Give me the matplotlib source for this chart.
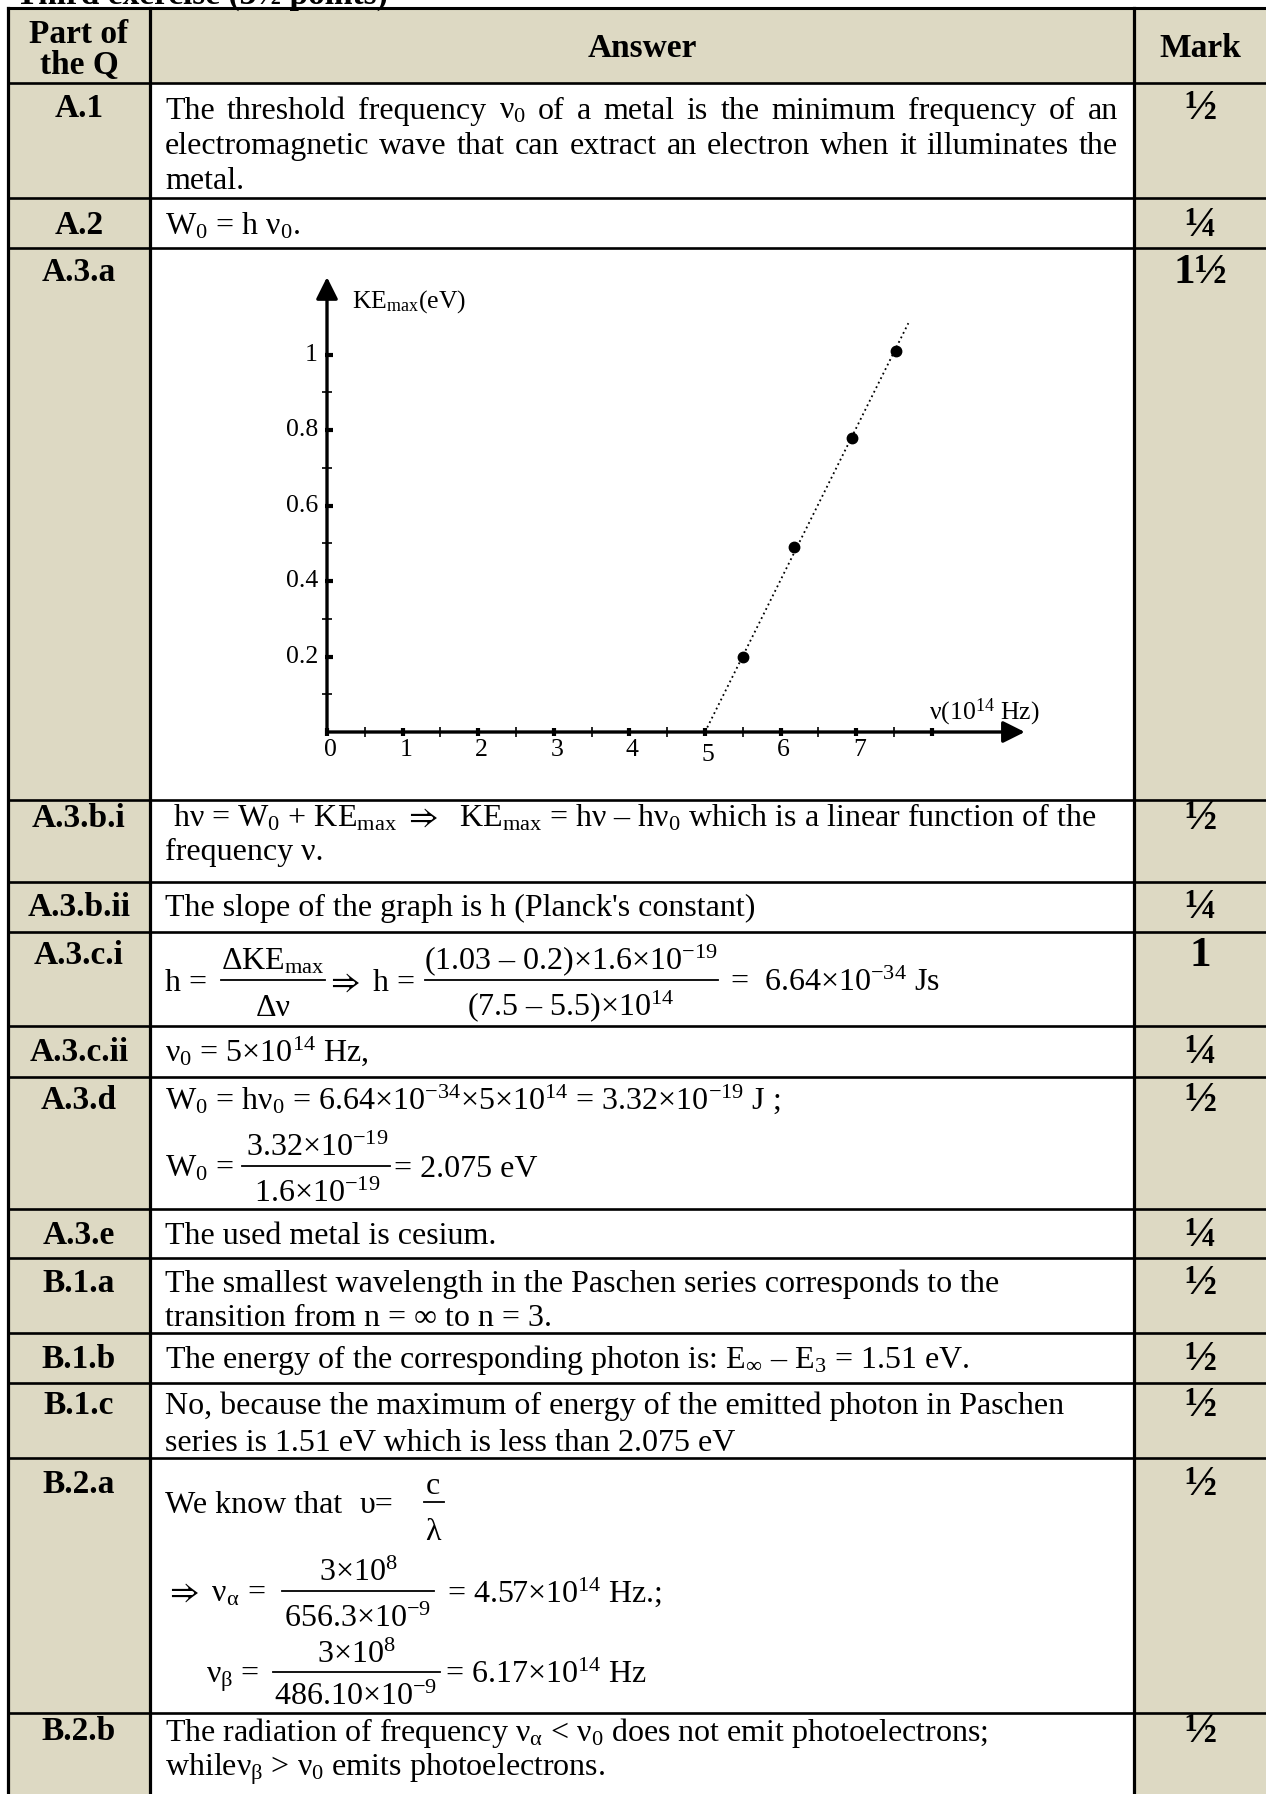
"""Marking scheme table (photoelectric effect) with the KEmax = f(v) graph"""
import matplotlib
matplotlib.use('Agg')
import matplotlib.pyplot as plt
from matplotlib.patches import Rectangle

# Times-like text, with DejaVu as fallback for arrows etc.
plt.rcParams['font.family'] = ['Liberation Serif', 'DejaVu Serif']
plt.rcParams['mathtext.fontset'] = 'custom'
plt.rcParams['mathtext.rm'] = 'Liberation Serif'
plt.rcParams['mathtext.it'] = 'Liberation Serif:italic'
plt.rcParams['mathtext.bf'] = 'Liberation Serif:bold'
plt.rcParams['mathtext.default'] = 'regular'
plt.rcParams['mathtext.fallback'] = 'stix'

W, H = 1266, 1794
BEIGE = '#ddd9c3'
FS = 23          # body text
LFS = 24         # part labels (bold)
MFS = 31         # marks (bold)
GFS = 18.5       # graph labels

# graph data
freq = [5.5, 6.18, 6.95, 7.53]          # 10^14 Hz
ke_max = [0.2, 0.49, 0.78, 1.01]        # eV
fit_freq = [5.0, 7.69]
fit_ke = [0.0, 1.083]
x_ticks = [0, 1, 2, 3, 4, 5, 6, 7, 8]
x_half_ticks = [0.5, 1.5, 2.5, 3.5, 4.5, 5.5, 6.5, 7.5]
x_labels = ['0', '1', '2', '3', '4', '5', '6', '7']
y_ticks = [0.2, 0.4, 0.6, 0.8, 1.0]
y_labels = ['0.2', '0.4', '0.6', '0.8', '1']
y_minor = [0.1, 0.3, 0.5, 0.7, 0.9]

# table content
parts = ['A.1', 'A.2', 'A.3.a', 'A.3.b.i', 'A.3.b.ii', 'A.3.c.i', 'A.3.c.ii',
         'A.3.d', 'A.3.e', 'B.1.a', 'B.1.b', 'B.1.c', 'B.2.a', 'B.2.b']
marks = ['½', '¼', '1½', '½', '¼', '1', '¼', '½', '¼', '½', '½', '½', '½', '½']

# row borders (pixels from top); the last row runs off the page
row_edges = [83, 198, 248, 800, 882, 932, 1026, 1077, 1209, 1258, 1333, 1383, 1458, 1713, H + 20]
label_y = [106, 223, 270, 816, 905, 953, 1050, 1098, 1233, 1281, 1357, 1403, 1482, 1729]
TOP, LEFT, C1, C2 = 8, 8, 150, 1134
TX = 165           # left edge of answer text
RA = r'$\Rightarrow$'

fig = plt.figure(figsize=(W / 100, H / 100), dpi=100)
ax = fig.add_axes([0, 0, 1, 1])
ax.set_xlim(0, W)
ax.set_ylim(H, 0)
ax.axis('off')


def put(x, yc, s, fs=FS, **kw):
    # yc is the visual middle of the line; draw on the baseline below it
    return ax.text(x, yc + fs * 0.46, s, fontsize=fs, va='baseline', **kw)


def frac(xc, ybar, x0, x1, num, den, fs=FS, up=21, down=25):
    put(xc, ybar - up, num, fs, ha='center')
    put(xc, ybar + down, den, fs, ha='center')
    ax.plot([x0, x1], [ybar, ybar], color='black', lw=1.3)


def justify(x0, x1, yc, text, fs=FS):
    words = text.split(' ')
    objs = [put(0, yc, w, fs) for w in words]
    r = fig.canvas.get_renderer()
    widths = [o.get_window_extent(renderer=r).width for o in objs]
    gap = (x1 - x0 - sum(widths)) / (len(words) - 1)
    x = x0
    for o, w in zip(objs, widths):
        o.set_x(x)
        x += w + gap


# cut-off heading above the table
ax.text(388, 4, 'Third exercise (3½ points)', fontsize=24, fontweight='bold',
        ha='right', va='baseline')

# shading
ax.add_patch(Rectangle((LEFT, TOP), W - LEFT, row_edges[0] - TOP, color=BEIGE, lw=0))
ax.add_patch(Rectangle((LEFT, row_edges[0]), C1 - LEFT, H, color=BEIGE, lw=0))
ax.add_patch(Rectangle((C2, row_edges[0]), W - C2, H, color=BEIGE, lw=0))

# borders
ax.plot([LEFT, W], [TOP, TOP], color='black', lw=2.2)
for y in row_edges[:-1]:
    ax.plot([LEFT, W], [y, y], color='black', lw=1.9)
for x in [LEFT, C1, C2]:
    ax.plot([x, x], [TOP, H], color='black', lw=2.3)

# header
put((LEFT + C1) / 2, 32, 'Part of', LFS, ha='center', fontweight='bold')
put((LEFT + C1) / 2, 63, 'the Q', LFS, ha='center', fontweight='bold')
put((C1 + C2) / 2, 46, 'Answer', LFS, ha='center', fontweight='bold')
put((C2 + W) / 2, 46, 'Mark', LFS, ha='center', fontweight='bold')

# part labels and marks
for yl, p, m in zip(label_y, parts, marks):
    put((LEFT + C1) / 2, yl, p, LFS, ha='center', fontweight='bold')
    ax.text((C2 + W) / 2, yl + 3, m, fontsize=MFS, fontweight='bold',
            ha='center', va='center')

# A.1
justify(TX, 1118, 108, 'The threshold frequency ν$_0$ of a metal is the minimum frequency of an')
justify(TX, 1118, 143, 'electromagnetic wave that can extract an electron when it illuminates the')
put(TX, 178, 'metal.')
# A.2
put(TX, 224, 'W$_0$ = h ν$_0$.')
# A.3.b.i
put(TX, 816, ' hν = W$_0$ + KE$_{max}$ ' + RA + '  KE$_{max}$ = hν – hν$_0$ which is a linear function of the')
put(TX, 849, 'frequency ν.')
# A.3.b.ii
put(TX, 905, "The slope of the graph is h (Planck's constant)")
# A.3.c.i
put(TX, 980, 'h = ')
frac(273, 980, 221, 325, 'ΔKE$_{max}$', 'Δν')
put(326, 980, RA + ' h = ')
frac(571, 980, 425, 718, '(1.03 – 0.2)×1.6×10$^{-19}$', '(7.5 – 5.5)×10$^{14}$')
put(730, 980, '=  6.64×10$^{-34}$ Js')
# A.3.c.ii
put(TX, 1050, 'ν$_0$ = 5×10$^{14}$ Hz,')
# A.3.d
put(TX, 1098, 'W$_0$ = hν$_0$ = 6.64×10$^{-34}$×5×10$^{14}$ = 3.32×10$^{-19}$ J ;')
put(TX, 1166, 'W$_0$ = ')
frac(317, 1166, 242, 390, '3.32×10$^{-19}$', '1.6×10$^{-19}$')
put(394, 1166, '= 2.075 eV')
# A.3.e
put(TX, 1233, 'The used metal is cesium.')
# B.1.a
put(TX, 1281, 'The smallest wavelength in the Paschen series corresponds to the')
put(TX, 1315, 'transition from n = ∞ to n = 3.')
# B.1.b
put(TX, 1357, r'The energy of the corresponding photon is: E$_\infty$ – E$_3$ = 1.51 eV.')
# B.1.c
put(TX, 1403, 'No, because the maximum of energy of the emitted photon in Paschen')
put(TX, 1440, 'series is 1.51 eV which is less than 2.075 eV')
# B.2.a
put(TX, 1502, 'We know that')
put(360, 1502, 'υ=')
frac(433, 1502, 424, 444, 'c', 'λ', up=19, down=27)
put(TX, 1591, RA + r' ν$_\alpha$ = ')
frac(358, 1591, 282, 434, '3×10$^{8}$', '656.3×10$^{-9}$')
put(447, 1591, '= 4.57×10$^{14}$ Hz.;')
put(206, 1672, r'ν$_\beta$ = ')
frac(356, 1672, 273, 440, '3×10$^{8}$', '486.10×10$^{-9}$', up=20, down=22)
put(445, 1672, '= 6.17×10$^{14}$ Hz')
# B.2.b
put(TX, 1730, r'The radiation of frequency ν$_\alpha$ < ν$_0$ does not emit photoelectrons;')
put(TX, 1765, r'whileν$_\beta$ > ν$_0$ emits photoelectrons.')

# ---- graph in A.3.a ----
ox, oy = 327, 732          # pixel position of the origin
xu, yu = 75.6, 377.5       # pixels per unit
bl, br, bt, bb = 200, 1100, 250, 790
ax2 = fig.add_axes([bl / W, 1 - bb / H, (br - bl) / W, (bb - bt) / H])
ax2.set_xlim((bl - ox) / xu, (br - ox) / xu)
ax2.set_ylim((oy - bb) / yu, (oy - bt) / yu)
ax2.axis('off')
ax2.set_facecolor('none')

arrow = dict(arrowstyle='-|>,head_length=0.6,head_width=0.3', lw=2.4, color='black',
             mutation_scale=22, shrinkA=0, shrinkB=0)
ax2.annotate('', xy=(9.23, 0), xytext=(0, 0), arrowprops=arrow)
ax2.annotate('', xy=(0, 1.205), xytext=(0, 0), arrowprops=arrow)

ax2.plot(x_ticks, [0] * len(x_ticks), ls='none', marker='|', ms=6, mew=3, color='black')
ax2.plot(x_half_ticks, [0] * len(x_half_ticks), ls='none', marker='|', ms=7.5, mew=1.2, color='black')
ax2.plot([0.03] * len(y_ticks), y_ticks, ls='none', marker='_', ms=6, mew=3, color='black')
ax2.plot([0] * len(y_minor), y_minor, ls='none', marker='_', ms=7.5, mew=1.2, color='black')

ax2.plot(fit_freq, fit_ke, ls=(0, (1, 1.8)), lw=1.3, color='black')
ax2.plot(freq, ke_max, 'o', ms=7.5, color='black')

for v, s in zip(x_ticks, x_labels):
    ax2.text(v + 0.04, -0.061 if s == '5' else -0.048, s, ha='center', va='center', fontsize=GFS)
for v, s in zip(y_ticks, y_labels):
    ax2.text(-0.12, v, s, ha='right', va='center', fontsize=GFS)
ax2.text(0.33, 1.139, 'KE$_{max}$(eV)', ha='left', va='center', fontsize=GFS)
ax2.text(7.96, 0.053, 'ν(10$^{14}$ Hz)', ha='left', va='center', fontsize=GFS)

fig.savefig('out.png', dpi=100)
